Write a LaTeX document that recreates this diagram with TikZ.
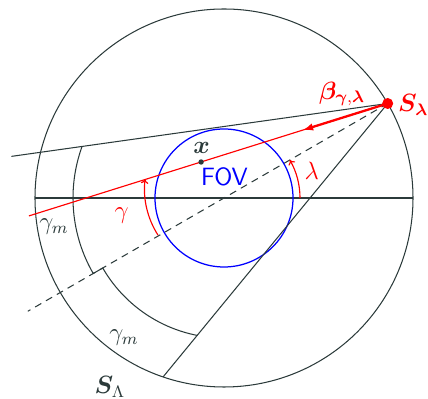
\documentclass[tikz,border=0pt]{standalone}
\usepackage{bm}
\usetikzlibrary{arrows.meta}
\definecolor{dk}{HTML}{2B3A3A}
\tikzset{
  dkline/.style={draw=dk, line width=0.5pt},
  redline/.style={draw=red, line width=0.55pt},
  lbl/.style={inner sep=0pt, outer sep=0pt, font=\fontsize{12}{14}\selectfont},
}
\begin{document}
\begin{tikzpicture}[x=0.48pt,y=0.48pt]
\useasboundingbox (-224,-201) rectangle (204,198);
\coordinate (O) at (0,0);
\coordinate (S) at (30:189);
% trajectory and axis
\draw[dkline] (O) circle (189);
\draw[dkline] (-189,0) -- (189,0);
% FOV
\draw[blue, line width=0.6pt] (O) circle (69);
% fan boundary lines
\draw[dkline] (S) -- ++(188:380) coordinate (U);
\draw[dkline] (S) -- ++(230.6:353.8) coordinate (L);
\draw[dkline, dash pattern=on 3.4pt off 2.6pt] (S) -- (210:226.5) coordinate (D);
% gamma_m arcs
\draw[dkline] (160.07:151) arc[start angle=160.07, end angle=210, radius=151]
  -- (210:140) arc[start angle=210, end angle=258.9, radius=140];
% ray
\draw[redline] (S) -- ++(197.4:376) coordinate (R);
\draw[draw=red, line width=1.1pt, -{Latex[length=5pt,width=3.6pt]}] (S) -- ++(197.4:89) coordinate (A);
% point x
\coordinate (X) at (-22.9,36.0);
\fill[dk] (X) circle (2.7);
% angle arcs
\draw[redline, -{To[length=2.2pt,width=3.6pt]}] (76,0) arc[start angle=0, end angle=30, radius=76];
\draw[redline, -{To[length=2.2pt,width=3.6pt]}] ([shift={(6,9)}]212.6:85.5) arc[start angle=212.6, end angle=173.3, radius=85.5];
% source
\fill[red] (S) circle (5.5);
% labels
\node[lbl, text=red] (beta) at (118,104) {$\bm{\beta}_{\bm{\gamma},\bm{\lambda}}$};
\node[lbl, text=red, anchor=west] (sl) at (174,93) {$\bm{S}_{\bm{\lambda}}$};
\node[lbl, text=dk] (xl) at (-22.3,49.7) {$\bm{x}$};
\node[lbl, text=blue, font=\fontsize{12}{14}\selectfont\sffamily] (fov) at (0.5,21) {FOV};
\node[lbl, text=red] (lam) at (87.7,27.2) {$\lambda$};
\node[lbl, text=red] (gam) at (-102.3,-17.7) {$\gamma$};
\node[lbl, text=dk] (gm1) at (-170,-29) {$\gamma_m$};
\node[lbl, text=dk] (gm2) at (-100,-139.5) {$\gamma_m$};
\node[lbl, text=dk, anchor=base] (SL) at (-114,-196) {$\bm{S}_{\Lambda}$};
\end{tikzpicture}
\end{document}
